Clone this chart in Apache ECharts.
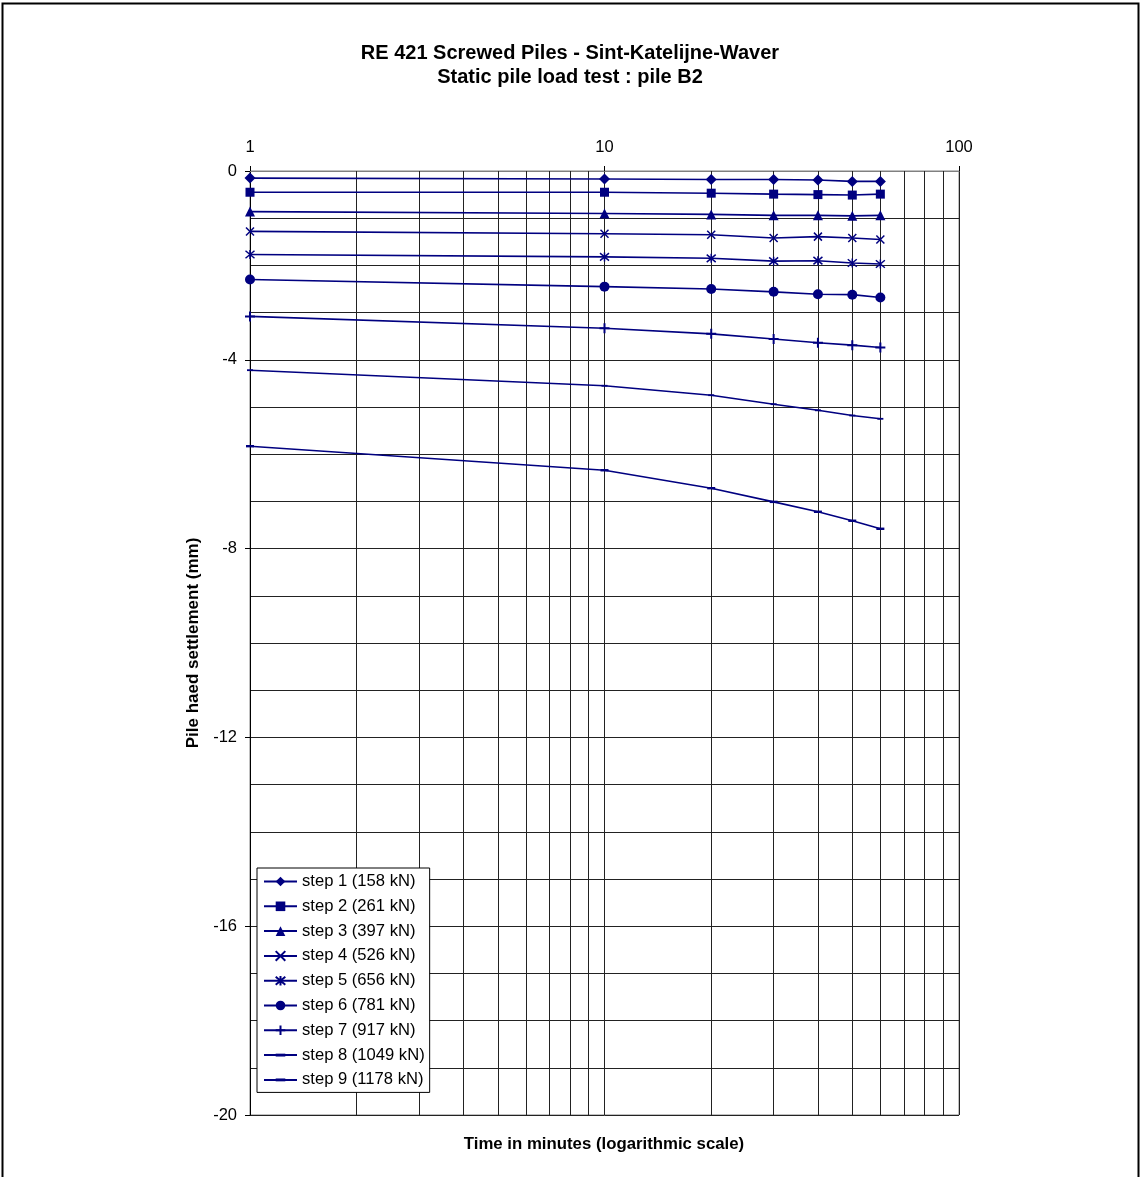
<!DOCTYPE html>
<html>
<head>
<meta charset="utf-8">
<script src="https://cdn.jsdelivr.net/npm/echarts@6/dist/echarts.min.js"></script>
<style>
html,body{margin:0;padding:0;background:#fff;}
#chart{width:1140px;height:1177px;}
</style>
</head>
<body>
<div id="chart"></div>
<script>
// ---- data ----
const times = [1, 10, 20, 30, 40, 50, 60];
const step1 = [-0.15, -0.17, -0.18, -0.18, -0.19, -0.22, -0.22];
const step2 = [-0.45, -0.45, -0.47, -0.49, -0.50, -0.51, -0.49];
const step3 = [-0.86, -0.90, -0.92, -0.94, -0.94, -0.95, -0.94];
const step4 = [-1.28, -1.33, -1.35, -1.42, -1.39, -1.42, -1.45];
const step5 = [-1.77, -1.82, -1.85, -1.91, -1.90, -1.95, -1.97];
const step6 = [-2.30, -2.45, -2.50, -2.56, -2.61, -2.62, -2.68];
const step7 = [-3.08, -3.33, -3.45, -3.56, -3.64, -3.69, -3.74];
const step8 = [-4.22, -4.55, -4.75, -4.94, -5.07, -5.18, -5.25];
const step9 = [-5.83, -6.34, -6.72, -7.01, -7.22, -7.41, -7.58];
const seriesNames = ['step 1 (158 kN)', 'step 2 (261 kN)', 'step 3 (397 kN)', 'step 4 (526 kN)',
  'step 5 (656 kN)', 'step 6 (781 kN)', 'step 7 (917 kN)', 'step 8 (1049 kN)', 'step 9 (1178 kN)'];
const seriesValues = [step1, step2, step3, step4, step5, step6, step7, step8, step9];
const minorTimes = [2, 3, 4, 5, 6, 7, 8, 9, 20, 30, 40, 50, 60, 70, 80, 90];

const NAVY = '#000080';
const GRIDC = '#222';
const FONT = '"Liberation Sans", Arial, sans-serif';
const symbols = [
  {symbol: 'diamond', size: 11, stroke: false},
  {symbol: 'rect', size: 9, stroke: false},
  {symbol: 'triangle', size: 10, stroke: false},
  {symbol: 'path://M0,0L10,10M10,0L0,10', size: 8, stroke: true},
  {symbol: 'path://M0,0L10,10M10,0L0,10M5,-1L5,11', size: 9, stroke: true},
  {symbol: 'circle', size: 10, stroke: false},
  {symbol: 'path://M0,5L10,5M5,0L5,10', size: 10, stroke: true, bw: 2},
  {symbol: 'path://M0,0M0,3.5L10,3.5L10,6.5L0,6.5ZM10,10', size: 6, stroke: false},
  {symbol: 'path://M0,0M0,3.5L10,3.5L10,6.5L0,6.5ZM10,10', size: 8, stroke: false}
];

const series = seriesNames.map((name, i) => ({
  name: name,
  type: 'line',
  z: 3,
  data: times.map((t, j) => [t, seriesValues[i][j]]),
  symbol: symbols[i].symbol,
  symbolSize: symbols[i].size,
  showAllSymbol: true,
  lineStyle: {color: NAVY, width: 1.6},
  itemStyle: symbols[i].stroke
    ? {color: NAVY, borderColor: NAVY, borderWidth: symbols[i].bw || 1.5}
    : {color: NAVY, borderWidth: 0},
  emphasis: {disabled: true},
  animation: false
}));

series.push({
  name: 'gridlines',
  type: 'line',
  z: 1,
  data: [],
  silent: true,
  animation: false,
  markLine: {
    z: 1,
    silent: true,
    symbol: ['none', 'none'],
    label: {show: false},
    animation: false,
    lineStyle: {color: GRIDC, type: 'solid', width: 1},
    emphasis: {disabled: true},
    data: minorTimes.map(t => ({xAxis: t}))
  }
});

const chart = echarts.init(document.getElementById('chart'), null, {renderer: 'canvas'});
chart.setOption({
  backgroundColor: '#fff',
  animation: false,
  title: [
    {
      text: 'RE 421 Screwed Piles - Sint-Katelijne-Waver\nStatic pile load test : pile B2',
      left: 'center',
      top: 36,
      textStyle: {fontFamily: FONT, fontSize: 20, fontWeight: 'bold', color: '#000', lineHeight: 24}
    },
    {
      text: 'Time in minutes (logarithmic scale)',
      left: 599,
      textAlign: 'center',
      top: 1131,
      textStyle: {fontFamily: FONT, fontSize: 16.8, fontWeight: 'bold', color: '#000'}
    }
  ],
  graphic: [{
    type: 'rect',
    shape: {x: 2.5, y: 3.5, width: 1136, height: 1200},
    style: {fill: 'none', stroke: '#000', lineWidth: 2},
    silent: true
  }],
  legend: {
    z: 20,
    orient: 'vertical',
    left: 257,
    top: 868,
    data: seriesNames,
    backgroundColor: '#fff',
    borderColor: '#000',
    borderWidth: 1,
    padding: [5, 5, 4, 6],
    itemWidth: 33,
    itemHeight: 12,
    itemGap: 7.8,
    selectedMode: false,
    textStyle: {fontFamily: FONT, fontSize: 16.6, color: '#000', lineHeight: 17}
  },
  grid: {
    left: 250, right: 181, top: 171, bottom: 62,
    show: true, borderColor: '#808080', borderWidth: 1,
    containLabel: false
  },
  xAxis: {
    type: 'log',
    logBase: 10,
    min: 1,
    max: 100,
    position: 'top',
    axisLine: {show: true, lineStyle: {color: '#808080', width: 1}},
    axisTick: {show: true, inside: false, length: 5, lineStyle: {color: '#000'}},
    axisLabel: {fontFamily: FONT, fontSize: 16.5, color: '#000', margin: 15},
    splitLine: {show: true, lineStyle: {color: GRIDC, width: 1}},
    minorTick: {show: false},
    minorSplitLine: {show: false}
  },
  yAxis: {
    type: 'value',
    min: -20,
    max: 0,
    interval: 4,
    name: 'Pile haed settlement (mm)',
    nameLocation: 'middle',
    nameGap: 42,
    nameRotate: 90,
    nameTextStyle: {fontFamily: FONT, fontSize: 17, fontWeight: 'bold', color: '#000'},
    axisLine: {show: true, lineStyle: {color: '#000', width: 1}},
    axisTick: {show: true, inside: false, length: 5, lineStyle: {color: '#000'}},
    axisLabel: {fontFamily: FONT, fontSize: 16.5, color: '#000', margin: 13},
    splitLine: {show: true, lineStyle: {color: GRIDC, width: 1}},
    minorTick: {show: false, splitNumber: 4},
    minorSplitLine: {show: true, lineStyle: {color: GRIDC, width: 1}}
  },
  series: series
});
</script>
</body>
</html>
